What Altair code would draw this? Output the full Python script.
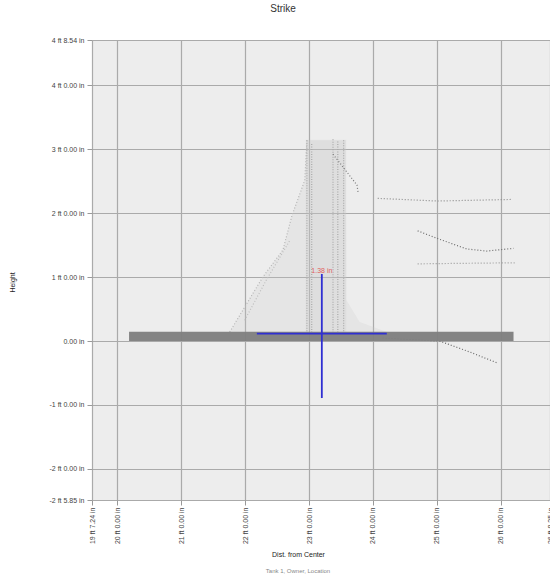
import altair as alt
import pandas as pd

TITLE = "Strike"
X_TITLE = "Dist. from Center"
Y_TITLE = "Height"
FOOTER = "Tank 1, Owner, Location"
FONT = "Liberation Sans"

# axis extents (inches) and tick values
X_MIN, X_MAX = 235.24, 321.25
Y_MIN, Y_MAX = -29.85, 56.54
x_ticks = [235.24, 240, 252, 264, 276, 288, 300, 312, 321.25]
y_ticks = [-29.85, -24, -12, 0, 12, 24, 36, 48, 56.54]

# floor band (dense scan of the floor)
floor_x = [242.2, 314.4]
floor_y = [0.0, 1.75]

# sparse cone of scanned points (outline)
cone_x = [261.1, 267.3, 271.1, 272.8, 275.2, 275.6, 282.9, 283.0, 285.5, 290.6]
cone_top = [1.7, 12.0, 17.1, 23.6, 30.2, 37.7, 37.7, 7.7, 3.6, 1.7]
cone_base = [1.7] * len(cone_x)

# denser pipe band
pipe_band_x = [275.4, 283.0]
pipe_band_y = [1.7, 37.8]

# vertical stippled columns of the pipe
pipe_x = [275.6, 276.5, 280.5, 281.4, 282.5]
pipe_top = [37.7, 37.0, 37.9, 37.5, 37.7]
pipe_bottom = 1.7

# stippled traces
edge_x = [261.1, 267.3, 271.1, 272.8, 275.2, 275.6]
edge_y = [1.7, 12.0, 17.1, 23.6, 30.2, 37.7]
inner_x = [263.9, 268.0, 272.4]
inner_y = [3.9, 11.5, 18.9]
streak_x = [280.5, 285.0, 285.2]
streak_y = [35.1, 29.3, 28.0]
upper_x = [288.9, 300.0, 314.2]
upper_y = [26.8, 26.3, 26.6]
curve_x = [296.4, 300.0, 305.6, 309.3, 314.4]
curve_y = [20.7, 19.3, 17.3, 16.9, 17.4]
lower_x = [296.4, 305.0, 314.6]
lower_y = [14.5, 14.6, 14.7]
drop_x = [289.8, 300.5, 306.2, 311.4]
drop_y = [0.56, 0.0, -2.06, -4.13]

# strike measurement
meas_x = 278.4
meas_y = 1.38
meas_h = [266.2, 290.6]
meas_v = [12.6, -10.7]
label_y = 13.2

# ---------------- tables ----------------
floor_df = pd.DataFrame({"x": [floor_x[0]], "x2": [floor_x[1]],
                         "y": [floor_y[0]], "y2": [floor_y[1]]})
cone_df = pd.DataFrame({"x": cone_x, "y": cone_top, "y2": cone_base})
band_df = pd.DataFrame({"x": [pipe_band_x[0]], "x2": [pipe_band_x[1]],
                        "y": [pipe_band_y[0]], "y2": [pipe_band_y[1]]})
pipe_df = pd.DataFrame({"x": pipe_x, "y": pipe_top, "y2": [pipe_bottom] * len(pipe_x)})

traces = {
    "edge": (edge_x, edge_y),
    "inner": (inner_x, inner_y),
    "streak": (streak_x, streak_y),
    "upper": (upper_x, upper_y),
    "curve": (curve_x, curve_y),
    "lower": (lower_x, lower_y),
    "drop": (drop_x, drop_y),
}
rows = []
for name, (xs, ys) in traces.items():
    for i, (a, b) in enumerate(zip(xs, ys)):
        rows.append({"seg": name, "x": a, "y": b, "o": i})
trace_df = pd.DataFrame(rows)

hline_df = pd.DataFrame({"x": [meas_h[0]], "x2": [meas_h[1]], "y": [meas_y]})
vline_df = pd.DataFrame({"x": [meas_x], "y": [meas_v[0]], "y2": [meas_v[1]]})
label_df = pd.DataFrame({"x": [meas_x], "y": [label_y], "t": [f"{meas_y:.2f} in"]})
footer_df = pd.DataFrame({"t": [FOOTER]})

ftin = ("(datum.value < 0 ? '-' : '') + (abs(datum.value) >= 12 ? floor(abs(datum.value) / 12) + ' ft ' : '')"
        " + format(abs(datum.value) % 12, '.2f') + ' in'")

xscale = alt.Scale(domain=[X_MIN, X_MAX], nice=False, zero=False)
yscale = alt.Scale(domain=[Y_MIN, Y_MAX], nice=False, zero=False)

common_axis = dict(labelExpr=ftin, labelFontSize=7, labelFont=FONT, labelColor="#444",
                   tickColor="#999", tickSize=5, grid=True, gridColor="#aaaaaa", gridWidth=1.2,
                   domain=False, labelOverlap=False, labelFlush=False,
                   titleFont=FONT, titleFontSize=7, titleFontWeight="normal", titleColor="#222")

xaxis = alt.Axis(values=x_ticks, labelAngle=270, labelPadding=2, title=X_TITLE,
                 titleX=206, titleY=54, titleBaseline="middle", titleAnchor="middle", **common_axis)
yaxis = alt.Axis(values=y_ticks, labelPadding=3, title=Y_TITLE, titleAngle=270,
                 titleX=-80, titleY=242, titleBaseline="middle", titleAnchor="middle", **common_axis)

X = lambda: alt.X("x:Q", scale=xscale, axis=xaxis)
Y = lambda: alt.Y("y:Q", scale=yscale, axis=yaxis)

cone = alt.Chart(cone_df).mark_area(fill="#c8c8c8", fillOpacity=0.22, interpolate="linear").encode(
    x=X(), y=Y(), y2="y2:Q")

band = alt.Chart(band_df).mark_rect(color="#c8c8c8", opacity=0.22).encode(
    x=X(), x2="x2:Q", y=Y(), y2="y2:Q")

pipe = alt.Chart(pipe_df).mark_rule(color="#a8a8a8", strokeWidth=1.2, strokeDash=[1, 1.5]).encode(
    x=X(), y=Y(), y2="y2:Q")

trace_colors = alt.Scale(domain=list(traces.keys()),
                         range=["#b5b5b5", "#bdbdbd", "#7a7a7a", "#8a8a8a", "#6a6a6a", "#9a9a9a", "#6a6a6a"])
trace = alt.Chart(trace_df).mark_line(strokeWidth=1.2, strokeDash=[1, 2]).encode(
    x=X(), y=Y(), detail="seg:N", order="o:Q",
    color=alt.Color("seg:N", scale=trace_colors, legend=None))

floor = alt.Chart(floor_df).mark_rect(color="#7e7e7e", opacity=0.95).encode(
    x=X(), x2="x2:Q", y=Y(), y2="y2:Q")

hline = alt.Chart(hline_df).mark_rule(color="#2f2fd2", strokeWidth=1.8).encode(
    x=X(), x2="x2:Q", y=Y())
vline = alt.Chart(vline_df).mark_rule(color="#2f2fd2", strokeWidth=1.8).encode(
    x=X(), y=Y(), y2="y2:Q")
label = alt.Chart(label_df).mark_text(color="#e06060", fontSize=7, font=FONT, baseline="middle").encode(
    x=X(), y=Y(), text="t:N")

footer = alt.Chart(footer_df).mark_text(color="#888", fontSize=6, font=FONT, align="center",
                                        baseline="middle").encode(
    x=alt.value(206), y=alt.value(531), text="t:N")

chart = alt.layer(cone, band, pipe, trace, floor, hline, vline, label, footer).properties(
    width=458, height=460,
    title=alt.TitleParams(TITLE, font=FONT, fontSize=10, fontWeight="normal", color="#333",
                          anchor="middle", frame="group", dx=-38, offset=22),
    autosize=alt.AutoSizeParams(type="none"),
    padding={"left": 92, "top": 40, "right": 0, "bottom": 79},
    background="white",
).configure_view(fill="#ededed", stroke=None)

chart.save("out.html", embed_options={"renderer": "svg", "actions": False})
